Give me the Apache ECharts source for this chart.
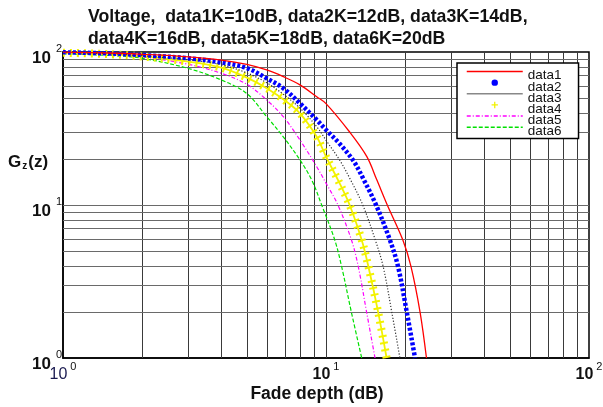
<!DOCTYPE html>
<html><head><meta charset="utf-8">
<script src="https://cdn.jsdelivr.net/npm/echarts@6/dist/echarts.min.js"></script>
<style>html,body{margin:0;padding:0;background:#fff}#c{width:603px;height:407px}</style>
</head><body><div id="c"></div>
<script>
const titleLines = ['Voltage,  data1K=10dB, data2K=12dB, data3K=14dB,', 'data4K=16dB, data5K=18dB, data6K=20dB'];
const xName = 'Fade depth (dB)';
const names = ['data1', 'data2', 'data3', 'data4', 'data5', 'data6'];

const x1 = [1, 1.5, 2, 3, 4, 5, 5.95, 6.88, 7.96, 9.22, 10, 12.3, 14.3, 15.6, 17.1, 19.6, 21.05, 22.8, 24.1];
const y1 = [99.8, 98.5, 96.6, 93, 88.6, 83, 76.3, 69, 61, 51, 46, 30, 20.7, 14.6, 10, 5.9, 3.95, 1.98, 1];
const x2 = [1, 1.5, 2, 3, 4, 5, 5.95, 6.88, 7.96, 9.22, 10, 11.3, 12.7, 13.87, 15.5, 17.5, 18.8, 20.3, 21.8];
const y2 = [99.6, 97.8, 95.5, 91, 85.6, 78.5, 67.3, 57.9, 46.2, 36, 31, 25, 19.5, 14.8, 10, 5.9, 3.95, 1.98, 1];
const x3 = [1, 1.5, 2, 3, 4, 5, 5.95, 6.88, 7.96, 9.22, 10, 11.3, 12.4, 13.8, 15.4, 16.5, 17.8, 19.1];
const y3 = [99.3, 97.3, 94.5, 89, 82.5, 73, 63, 53, 43, 32.5, 26.5, 19.5, 14.6, 10, 5.9, 3.95, 1.98, 1];
const x4 = [1, 1.5, 2, 3, 4, 5, 5.95, 7, 7.96, 9.22, 10, 11.1, 12.3, 13.67, 14.5, 15.8, 17];
const y4 = [98.8, 96.8, 93.5, 86.4, 79, 68, 58, 48, 39.7, 27.9, 20.7, 14.6, 10, 5.9, 3.95, 1.98, 1];
const x5 = [1, 1.5, 2, 3, 4, 5, 5.95, 6.88, 7.96, 9.22, 10, 11.1, 12.5, 13.27, 14.28, 15.36];
const y5 = [98.3, 96.2, 93, 83, 72.6, 61.5, 48.6, 37.8, 26.6, 17.8, 13.9, 10, 5.9, 3.95, 1.98, 1];
const x6 = [1, 1.5, 2, 3, 4, 5, 5.95, 6.88, 7.96, 8.82, 9.63, 10.8, 11.47, 12.5, 13.67];
const y6 = [97.5, 95, 91, 78, 65.6, 53.5, 37.8, 27.9, 19.7, 14.6, 10, 5.9, 3.95, 1.98, 1];

const gridX = [2, 3, 4, 5, 6, 7, 8, 9, 10, 20, 30, 40, 50, 60, 70, 80, 90];
const gridY = [2, 3, 4, 5, 6, 7, 8, 9, 10, 20, 30, 40, 50, 60, 70, 80, 90];

const FONT = 'Liberation Sans';
const pairs = (xs, ys) => xs.map((x, i) => [x, ys[i]]);
const plusPath = 'path://M4,0H6V4H10V6H6V10H4V6H0V4H4Z';

function line(name, xs, ys, color, ls, extra) {
  return Object.assign({
    type: 'line', name: name, data: pairs(xs, ys), showSymbol: false, symbol: 'none',
    smooth: 0.35, silent: true, z: 3,
    lineStyle: Object.assign({ color: color }, ls),
    itemStyle: { color: color }
  }, extra || {});
}

const markData = gridX.map(v => ({ xAxis: v, lineStyle: { color: '#3a3a3a', width: 1, type: 'solid' } }))
  .concat(gridY.map(v => ({ yAxis: v, lineStyle: { color: '#6a6a6a', width: 1, type: 'solid' } })));

const series = [
  line('data6', x6, y6, '#00e000', { width: 1.2, type: [4, 2] }),
  line('data5', x5, y5, '#ff00ff', { width: 1.2, type: [4, 2, 1, 2] }),
  line('data4', x4, y4, '#f2f200', { width: 1.8 }, { symbol: plusPath }),
  line('', x4, y4, '#f2f200', { width: 8, type: [2, 5] }),
  line('data3', x3, y3, '#333333', { width: 1.2, type: [1.2, 1.8] }),
  line('data2', x2, y2, '#0000ff', { width: 4.5, type: [3, 2] }),
  line('data1', x1, y1, '#ff0000', { width: 1.3 }, {
    markLine: { silent: true, z: 1, symbol: ['none', 'none'], label: { show: false }, animation: false, data: markData }
  })
];

function labelFmt(axis) {
  return function (v) {
    const e = Math.round(Math.log10(v));
    const b = (axis === 'x' && e === 0) ? 'r' : 'b';
    return '{' + b + '|10}{s|' + e + '}';
  };
}

const chart = echarts.init(document.getElementById('c'), null, { renderer: 'canvas' });
chart.setOption({
  animation: false,
  backgroundColor: '#ffffff',
  textStyle: { fontFamily: FONT },
  title: [
    { text: titleLines.join('\n'), left: 83, top: 1,
      textStyle: { fontFamily: FONT, fontWeight: 'bold', fontSize: 17.7, lineHeight: 22, color: '#111' } },
    { text: '{g|G}{s|z}{g|(z)}', left: 3, top: 144,
      textStyle: { fontFamily: FONT, rich: {
        g: { fontFamily: FONT, fontWeight: 'bold', fontSize: 17, lineHeight: 22, color: '#111', verticalAlign: 'bottom' },
        s: { fontFamily: FONT, fontSize: 10, lineHeight: 14, color: '#111', verticalAlign: 'bottom', padding: [0, 1, 0, 1] }
      } } },
    { text: xName, left: 312, textAlign: 'center', top: 379,
      textStyle: { fontFamily: FONT, fontWeight: 'bold', fontSize: 17.5, lineHeight: 20, color: '#111' } }
  ],
  legend: {
    orient: 'vertical', left: 457, top: 63, selectedMode: false,
    itemWidth: 56, itemHeight: 8, itemGap: -4.6,
    padding: [4, 17, 0, 9],
    backgroundColor: '#ffffff', borderColor: '#000', borderWidth: 1.5, borderRadius: 0,
    lineStyle: { width: 1.5 },
    formatter: '{a|{name}}',
    textStyle: { fontFamily: FONT, fontSize: 13.5, lineHeight: 9, color: '#111',
      rich: { a: { fontFamily: FONT, fontSize: 13.5, lineHeight: 9, color: '#111', verticalAlign: 'top', padding: [1.75, 0, 0, 0] } } },
    data: [
      { name: 'data1', itemStyle: { opacity: 0 } },
      { name: 'data2', lineStyle: { opacity: 0 } },
      { name: 'data3', itemStyle: { opacity: 0 }, lineStyle: { type: 'solid', color: '#888888' } },
      { name: 'data4', lineStyle: { opacity: 0 } },
      { name: 'data5', itemStyle: { opacity: 0 } },
      { name: 'data6', itemStyle: { opacity: 0 } }
    ]
  },
  grid: { left: 63, right: 14, top: 52, bottom: 49, show: true, borderColor: '#000', borderWidth: 1.5,
          backgroundColor: '#fff', containLabel: false, outerBoundsMode: 'none' },
  xAxis: {
    type: 'log', logBase: 10, min: 1, max: 100,
    axisLine: { show: true, lineStyle: { color: '#000', width: 1.5 } },
    axisTick: { show: false }, splitLine: { show: false }, minorTick: { show: false },
    axisLabel: { margin: 3, formatter: labelFmt('x'), color: '#111', rich: {
      b: { fontFamily: FONT, fontWeight: 'bold', fontSize: 16, lineHeight: 16, color: '#111', verticalAlign: 'bottom' },
      r: { fontFamily: FONT, fontSize: 16, lineHeight: 16, color: '#1a1a50', verticalAlign: 'bottom' },
      s: { fontFamily: FONT, fontSize: 11, lineHeight: 22, color: '#111', verticalAlign: 'top', padding: [0, 0, 0, 3] }
    } }
  },
  yAxis: {
    type: 'log', logBase: 10, min: 1, max: 100,
    axisLine: { show: true, lineStyle: { color: '#000', width: 1.5 } },
    axisTick: { show: false }, splitLine: { show: false }, minorTick: { show: false },
    axisLabel: { margin: 1, formatter: labelFmt('y'), color: '#111', rich: {
      b: { fontFamily: FONT, fontWeight: 'bold', fontSize: 17, lineHeight: 17, color: '#111', verticalAlign: 'bottom' },
      s: { fontFamily: FONT, fontSize: 11, lineHeight: 29, color: '#111', verticalAlign: 'top', padding: [5.5, 0, 0, 5] }
    } }
  },
  series: series
});
</script></body></html>
